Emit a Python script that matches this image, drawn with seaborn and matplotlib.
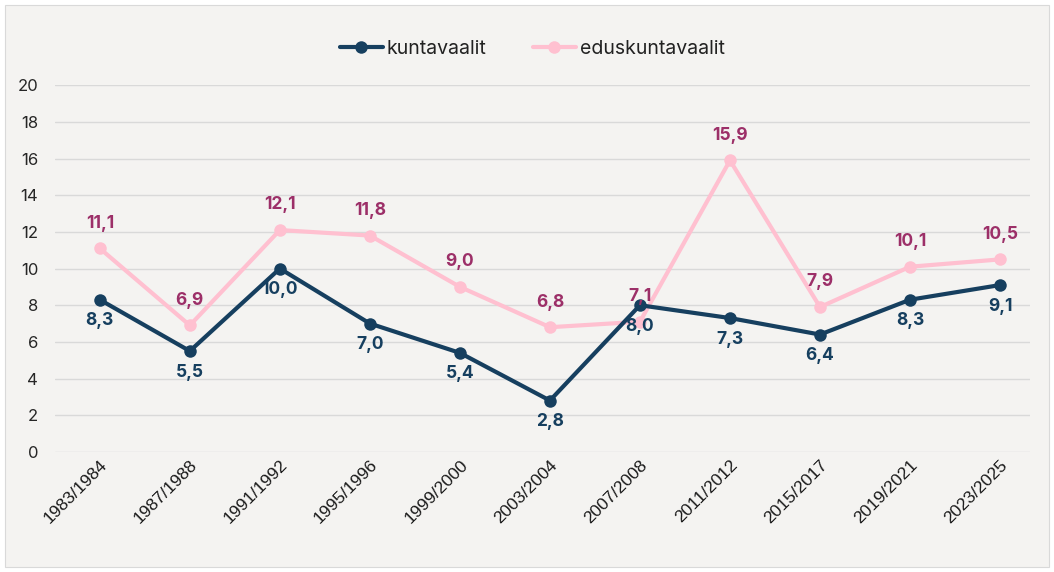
import matplotlib
matplotlib.use("Agg")
import matplotlib.pyplot as plt
from matplotlib.patches import Rectangle
import seaborn as sns
import pandas as pd

periods = ["1983/1984", "1987/1988", "1991/1992", "1995/1996", "1999/2000",
           "2003/2004", "2007/2008", "2011/2012", "2015/2017", "2019/2021",
           "2023/2025"]
kuntavaalit = [8.3, 5.5, 10.0, 7.0, 5.4, 2.8, 8.0, 7.3, 6.4, 8.3, 9.1]
eduskuntavaalit = [11.1, 6.9, 12.1, 11.8, 9.0, 6.8, 7.1, 15.9, 7.9, 10.1, 10.5]
yticks = [0, 2, 4, 6, 8, 10, 12, 14, 16, 18, 20]

bg = "#f4f3f1"
dark = "#163f5f"
pink = "#ffc0d0"
pink_text = "#9c2f68"

df = pd.DataFrame({
    "period": periods * 2,
    "value": kuntavaalit + eduskuntavaalit,
    "series": ["kuntavaalit"] * len(periods) + ["eduskuntavaalit"] * len(periods),
})

sns.set_style("white")
plt.rcParams["font.family"] = ["Liberation Sans", "DejaVu Sans"]

fig = plt.figure(figsize=(10.54, 5.72), dpi=100)
fig.patch.set_facecolor("white")
fig.add_artist(Rectangle((5 / 1054, 5 / 572), 1044 / 1054, 562 / 572,
                         transform=fig.transFigure, facecolor=bg,
                         edgecolor="#d9d9d9", linewidth=0.8, zorder=0))
ax = fig.add_axes([0.052, 0.21, 0.925, 0.641])
ax.set_facecolor(bg)

# pink first so the dark line sits on top
sns.lineplot(data=df[df.series == "eduskuntavaalit"], x="period", y="value",
             color=pink, linewidth=3, marker="o", markersize=9,
             markeredgewidth=0, sort=False, ax=ax, label="eduskuntavaalit")
sns.lineplot(data=df[df.series == "kuntavaalit"], x="period", y="value",
             color=dark, linewidth=3, marker="o", markersize=9,
             markeredgewidth=0, sort=False, ax=ax, label="kuntavaalit")

for i, (k, e) in enumerate(zip(kuntavaalit, eduskuntavaalit)):
    ax.annotate(f"{e:.1f}".replace(".", ","), (i, e), xytext=(0, 12),
                textcoords="offset points", ha="center", va="bottom",
                fontsize=12.5, fontweight="bold", color=pink_text,
                family=["Inter", "DejaVu Sans"])
    ax.annotate(f"{k:.1f}".replace(".", ","), (i, k), xytext=(0, -9),
                textcoords="offset points", ha="center", va="top",
                fontsize=12.5, fontweight="bold", color=dark,
                family=["Inter", "DejaVu Sans"])

ax.set_ylim(0, 20)
ax.set_xlim(-0.5, 10.33)
ax.set_yticks(yticks)
ax.set_yticklabels([str(t) for t in yticks], fontsize=12,
                   family=["Inter", "DejaVu Sans"])
ax.tick_params(axis="y", length=0, pad=12)
ax.tick_params(axis="x", length=0, pad=4)
plt.setp(ax.get_xticklabels(), rotation=45, ha="right", rotation_mode="anchor",
         fontsize=12.5, color="#1a1a1a")
ax.grid(axis="y", color="#d9d9d9", linewidth=1)
ax.set_axisbelow(True)
for s in ax.spines.values():
    s.set_visible(False)
ax.set_xlabel("")
ax.set_ylabel("")

handles, labels = ax.get_legend_handles_labels()
ax.get_legend().remove()
fig.legend(handles[::-1], labels[::-1], loc="center", bbox_to_anchor=(0.505, 0.915),
           ncol=2, frameon=False, prop={"family": ["Inter", "DejaVu Sans"], "size": 14},
           labelcolor="#222222", handlelength=2.2, columnspacing=2.4,
           handletextpad=0.2)

fig.savefig("out.png", dpi=100, facecolor=fig.get_facecolor())
